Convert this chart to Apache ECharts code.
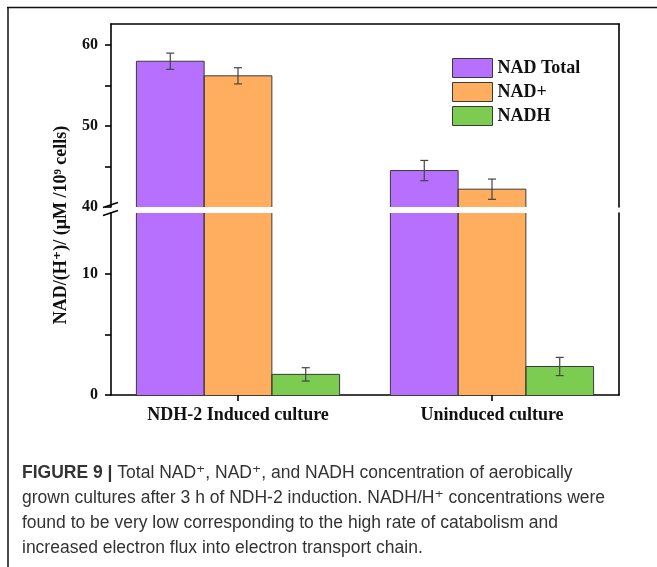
<!DOCTYPE html>
<html>
<head>
<meta charset="utf-8">
<script src="https://cdn.jsdelivr.net/npm/echarts@6/dist/echarts.min.js"></script>
<style>
html,body{margin:0;padding:0;background:#fff;}
#chart{width:657px;height:567px;}
</style>
</head>
<body>
<div id="chart"></div>
<script>
// ---- data ----
var categories = ['NDH-2 Induced culture', 'Uninduced culture'];
var seriesNames = ['NAD Total', 'NAD+', 'NADH'];
var nadTotal = [58.0, 44.5];
var nadPlus = [56.2, 42.2];
var nadh = [1.7, 2.35];
var nadTotalErr = [1.0, 1.25];
var nadPlusErr = [1.0, 1.25];
var nadhErr = [0.55, 0.75];
var upperTicks = [40, 45, 50, 55, 60];
var upperLabels = [40, 50, 60];
var lowerTicks = [0, 5, 10];
var lowerLabels = [0, 10];

var colors = ['#B770FE', '#FFAE5F', '#7BCC50'];
var values = [nadTotal, nadPlus, nadh];
var errs = [nadTotalErr, nadPlusErr, nadhErr];

var serif = '"Liberation Serif", "DejaVu Serif", serif';
var sans = '"Liberation Sans", "DejaVu Sans", sans-serif';

var chart = echarts.init(document.getElementById('chart'), null, {renderer: 'canvas'});

var grids = [
  {left: 111, right: 38, top: 24, height: 183},
  {left: 111, right: 38, top: 213, height: 182}
];

var axisLineStyle = {color: '#000', width: 1.6};

var xAxes = [
  {gridIndex: 0, type: 'category', data: categories, position: 'top',
   axisLine: {show: true, lineStyle: axisLineStyle}, axisTick: {show: false}, axisLabel: {show: false}},
  {gridIndex: 1, type: 'category', data: categories, position: 'bottom',
   axisLine: {show: true, lineStyle: axisLineStyle},
   axisTick: {show: true, alignWithLabel: true, length: 6, inside: false, lineStyle: {color: '#000', width: 1.6}},
   axisLabel: {margin: 11, fontFamily: serif, fontWeight: 'bold', fontSize: 18, color: '#111'}}
];

var yAxes = [
  {gridIndex: 0, type: 'value', min: 40, max: 62.6, position: 'left',
   axisLine: {show: true, lineStyle: axisLineStyle},
   axisTick: {show: true, length: 6, customValues: upperTicks, lineStyle: {color: '#000', width: 1.6}},
   axisLabel: {customValues: upperLabels, margin: 13, fontFamily: serif, fontWeight: 'bold', fontSize: 16, color: '#111'},
   splitLine: {show: false}},
  {gridIndex: 1, type: 'value', min: 0, max: 15, position: 'left',
   axisLine: {show: true, lineStyle: axisLineStyle},
   axisTick: {show: true, length: 6, customValues: lowerTicks, lineStyle: {color: '#000', width: 1.6}},
   axisLabel: {customValues: lowerLabels, margin: 13, fontFamily: serif, fontWeight: 'bold', fontSize: 16, color: '#111'},
   splitLine: {show: false}},
  {gridIndex: 0, type: 'value', min: 40, max: 62.6, position: 'right',
   axisLine: {show: true, lineStyle: axisLineStyle}, axisTick: {show: false}, axisLabel: {show: false}, splitLine: {show: false}},
  {gridIndex: 1, type: 'value', min: 0, max: 15, position: 'right',
   axisLine: {show: true, lineStyle: axisLineStyle}, axisTick: {show: false}, axisLabel: {show: false}, splitLine: {show: false}}
];

function barOffset(api, k) {
  var band = api.size([1, 0])[0];
  var barW = band * 0.8 / 3;
  return {w: barW, off: (k - 1) * barW};
}

function errRender(k) {
  return function (params, api) {
    var xi = api.value(0), v = api.value(1), e = api.value(2);
    var b = barOffset(api, k);
    var top = api.coord([xi, v + e]);
    var bot = api.coord([xi, v - e]);
    var cx = top[0] + b.off;
    var cap = 4;
    var st = {stroke: '#444', lineWidth: 1.2};
    return {type: 'group', children: [
      {type: 'line', shape: {x1: cx, y1: top[1], x2: cx, y2: bot[1]}, style: st},
      {type: 'line', shape: {x1: cx - cap, y1: top[1], x2: cx + cap, y2: top[1]}, style: st},
      {type: 'line', shape: {x1: cx - cap, y1: bot[1], x2: cx + cap, y2: bot[1]}, style: st}
    ]};
  };
}

function outlineRender(k) {
  return function (params, api) {
    var xi = api.value(0), v = api.value(1);
    var b = barOffset(api, k);
    var topP = api.coord([xi, v]);
    var baseP = api.coord([xi, 0]);
    var cx = topP[0] + b.off;
    var x1 = cx - b.w / 2, x2 = cx + b.w / 2;
    return {type: 'polyline',
      shape: {points: [[x1, baseP[1]], [x1, topP[1]], [x2, topP[1]], [x2, baseP[1]]]},
      style: {stroke: '#3a3a3a', lineWidth: 1, fill: null}};
  };
}

var series = [];
for (var g = 0; g < 2; g++) {
  for (var k = 0; k < 3; k++) {
    series.push({
      name: seriesNames[k], type: 'bar', xAxisIndex: g, yAxisIndex: g,
      data: values[k], barGap: '0%', barCategoryGap: '20%',
      itemStyle: {color: colors[k], borderWidth: 0},
      clip: true, emphasis: {disabled: true}
    });
  }
}
for (var g2 = 0; g2 < 2; g2++) {
  for (var k2 = 0; k2 < 3; k2++) {
    var d = values[k2].map(function (v, i) { return [i, v, errs[k2][i]]; });
    series.push({
      type: 'custom', xAxisIndex: g2, yAxisIndex: g2, clip: true, z: 4,
      renderItem: outlineRender(k2), data: d, silent: true
    });
    series.push({
      type: 'custom', xAxisIndex: g2, yAxisIndex: g2, clip: true, z: 5,
      renderItem: errRender(k2), data: d, silent: true
    });
  }
}

var option = {
  animation: false,
  backgroundColor: '#fff',
  grid: grids,
  xAxis: xAxes,
  yAxis: yAxes,
  legend: {
    data: seriesNames, orient: 'vertical', left: 452, top: 58, padding: 0,
    itemWidth: 40, itemHeight: 19, itemGap: 4,
    icon: 'rect',
    itemStyle: {borderColor: '#3a3a3a', borderWidth: 1},
    textStyle: {fontFamily: serif, fontWeight: 'bold', fontSize: 18, color: '#111'},
    selectedMode: false
  },
  series: series,
  graphic: [
    // frame (top and left edges)
    {type: 'line', shape: {x1: 7, y1: 7.5, x2: 657, y2: 7.5}, style: {stroke: '#111', lineWidth: 1.5}},
    {type: 'line', shape: {x1: 8, y1: 7, x2: 8, y2: 567}, style: {stroke: '#111', lineWidth: 1.5}},
    // axis break marks
    {type: 'line', shape: {x1: 103, y1: 207.5, x2: 118, y2: 202.5}, style: {stroke: '#000', lineWidth: 1.5}},
    {type: 'line', shape: {x1: 103, y1: 215.5, x2: 118, y2: 210.5}, style: {stroke: '#000', lineWidth: 1.5}},
    // y-axis title
    {type: 'text', x: 61, y: 225, rotation: Math.PI / 2,
     style: {text: 'NAD/(H\u207A)/ (\u03BCM /10\u2079 cells)', fontFamily: serif, fontWeight: 'bold', fontSize: 18,
             fill: '#111', align: 'center', verticalAlign: 'middle'}},
    // caption
    {type: 'text', x: 22, y: 461,
     style: {
       text: '{b|FIGURE 9 |} Total NAD\u207A, NAD\u207A, and NADH concentration of aerobically\n' +
             'grown cultures after 3 h of NDH-2 induction. NADH/H\u207A concentrations were\n' +
             'found to be very low corresponding to the high rate of catabolism and\n' +
             'increased electron flux into electron transport chain.',
       fontFamily: sans, fontSize: 17.5, fill: '#333', lineHeight: 25,
       rich: {b: {fontFamily: sans, fontSize: 17.5, fontWeight: 'bold', fill: '#333', lineHeight: 25}}
     }}
  ]
};
chart.setOption(option);
</script>
</body>
</html>
